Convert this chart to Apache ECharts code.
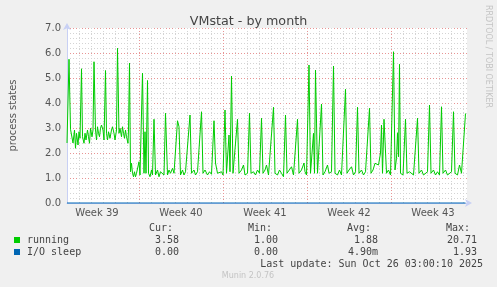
<!DOCTYPE html>
<html><head><meta charset="utf-8">
<script src="https://cdn.jsdelivr.net/npm/echarts@6/dist/echarts.min.js"></script>
<style>html,body{margin:0;padding:0;background:#f0f0f0}#c{width:497px;height:287px}</style>
</head><body><div id="c"></div>
<script>
// x values are hours relative to Mon Sep 29 2025 00:00 (start of ISO week 40)
const weekLabels = ['Week 39', 'Week 40', 'Week 41', 'Week 42', 'Week 43'];
const runningWeek39 = [[-144,2.40],[-140,5.75],[-137,2.95],[-132,2.40],[-129,2.92],[-127,2.19],[-125,2.79],[-122,2.32],[-120,2.85],[-118,2.59],[-115,5.37],[-113,2.65],[-110,2.39],[-108,2.79],[-106,2.52],[-103,2.92],[-101,2.65],[-99,2.39],[-97,2.99],[-94,2.65],[-92,2.92],[-90,5.65],[-87,2.92],[-85,2.52],[-83,3.05],[-81,2.79],[-79,2.65],[-77,2.99],[-75,3.12],[-72,2.92],[-70,2.52],[-67,5.30],[-65,2.79],[-63,2.52],[-61,2.85],[-58,2.59],[-55,2.92],[-53,3.05],[-50,2.79],[-48,2.52],[-45,2.92],[-43,6.19],[-40,2.79],[-38,2.99],[-35,2.65],[-33,3.05],[-31,2.79],[-29,2.59],[-27,2.92],[-25,2.65],[-22,2.39],[-21,2.92],[-19,5.60],[-17,1.25],[-15,1.59],[-13,1.19],[-11,1.05],[-9,1.25],[-7,1.05],[-5,1.19],[-2,1.19]];
const runningWeek40 = [[0,1.65],[2,1.12],[5,1.19],[7,5.20],[10,1.19],[12,2.85],[14,1.19],[17,4.90],[19,1.19],[22,1.05],[25,1.32],[27,1.12],[30,3.35],[33,1.12],[37,1.32],[40,1.05],[43,1.25],[47,1.19],[50,1.12],[53,3.59],[57,1.12],[60,1.32],[63,1.19],[67,1.39],[70,1.19],[77,3.29],[80,3.05],[83,1.12],[87,1.32],[90,1.12],[93,1.25],[97,1.19],[102,3.52],[105,1.19],[110,1.32],[113,1.12],[117,1.25],[120,1.19],[125,3.65],[128,1.19],[132,1.32],[137,1.12],[141,1.25],[145,1.15],[150,3.29],[153,1.60],[157,1.19],[160,1.12],[165,1.25]];
const runningWeek41 = [[168,1.12],[172,3.72],[175,1.19],[180,2.72],[182,1.25],[185,5.08],[188,1.19],[191,1.12],[197,3.35],[200,1.19],[205,1.32],[209,1.52],[212,1.12],[217,1.19],[221,3.59],[224,1.19],[229,1.25],[233,1.12],[237,1.32],[241,1.19],[245,3.39],[248,1.19],[252,1.32],[255,1.52],[259,1.12],[263,1.19],[269,3.83],[272,1.19],[277,1.12],[281,1.32],[285,1.19],[289,1.05],[293,3.52],[296,1.19],[300,1.25],[305,1.45],[309,1.12],[313,1.19],[317,3.35],[320,1.19],[325,1.32],[330,1.60],[332,1.25],[335,1.12]];
const runningWeek42 = [[340,5.52],[343,1.19],[349,2.79],[351,1.19],[353,5.32],[357,1.19],[360,1.25],[365,3.96],[368,1.12],[372,1.25],[377,1.52],[380,1.19],[385,1.25],[389,5.48],[392,1.19],[397,1.12],[401,1.32],[405,1.12],[409,1.19],[413,4.55],[416,1.19],[420,1.32],[425,1.45],[429,1.12],[433,1.25],[437,3.83],[440,1.19],[445,1.32],[449,1.12],[453,1.25],[457,1.19],[461,3.79],[464,1.19],[468,1.32],[472,1.59],[475,1.65],[479,1.52],[483,2.00],[485,3.12],[487,1.19],[490,3.35],[495,1.19],[499,1.32],[503,1.12]];
const runningWeek43 = [[509,6.05],[512,1.32],[515,1.79],[517,2.81],[519,1.85],[521,5.55],[523,1.19],[528,1.12],[533,3.35],[536,1.19],[541,1.25],[545,1.32],[549,1.12],[553,1.19],[557,3.39],[560,1.19],[565,1.32],[569,1.12],[573,1.19],[577,1.25],[581,3.92],[584,1.19],[589,1.32],[593,1.12],[597,1.25],[601,1.12],[605,3.85],[608,1.19],[613,1.32],[617,1.12],[621,1.19],[625,1.25],[629,3.65],[632,1.19],[637,1.12],[641,1.52],[645,1.19],[649,1.25],[653,3.58]];
const ioSleepBumps = [[-132,0.08],[-74,0.05],[-22,0.05],[0,0.06],[26,0.05],[42,0.05],[52,0.06],[82,0.05],[98,0.06],[128,0.05],[146,0.06],[192,0.08],[228,0.05],[248,0.06],[256,0.05],[266,0.06],[318,0.06],[340,0.08],[362,0.05],[388,0.06],[436,0.05],[452,0.06],[472,0.05],[496,0.05],[556,0.06],[578,0.08],[606,0.05],[632,0.06]];
const ioSleepStart = -144, ioSleepEnd = 653;
const legendNames = ['running', 'I/O sleep'];
const legendColors = ['#00cc00', '#0066b3'];
const statHeaders = ['Cur:', 'Min:', 'Avg:', 'Max:'];
const runningStats = ['3.58', '1.00', '1.88', '20.71'];
const ioSleepStats = ['0.00', '0.00', '4.90m', '1.93'];
const lastUpdate = 'Last update: Sun Oct 26 03:00:10 2025';

const running = [].concat(runningWeek39, runningWeek40, runningWeek41, runningWeek42, runningWeek43);
const ioSleep = [[ioSleepStart, 0]];
ioSleepBumps.forEach(([h, v]) => { ioSleep.push([h - 2, 0], [h, v], [h + 2, 0]); });
ioSleep.push([ioSleepEnd, 0]);

const GRAY = '#d4d4d4', RED = '#e89494', AXIS = '#c8d0f4';
const mono = '"DejaVu Sans Mono", monospace';
const sans = '"DejaVu Sans", sans-serif';
const txt = (x, y, text, opts) => ({
  type: 'text', x: x, y: y,
  style: Object.assign({ text: text, font: '10px ' + mono, fill: '#444', align: 'left', verticalAlign: 'middle' }, opts || {})
});

const colX = [173, 272, 371, 470];
const valX = [179, 278, 378, 477];
const graphics = [];
statHeaders.forEach((h, i) => graphics.push(txt(colX[i], 228, h, { align: 'right' })));
[runningStats, ioSleepStats].forEach((row, r) => {
  const y = 240 + r * 12;
  graphics.push({ type: 'rect', shape: { x: 14, y: y - 3, width: 6, height: 6 }, style: { fill: legendColors[r] } });
  graphics.push(txt(27, y, legendNames[r]));
  row.forEach((v, i) => graphics.push(txt(valX[i], y, v, { align: 'right' })));
});
graphics.push(txt(483, 264, lastUpdate, { align: 'right' }));
graphics.push(txt(248, 276, 'Munin 2.0.76', { align: 'center', font: '8px ' + sans, fill: '#c4c4c4' }));
graphics.push({ type: 'text', x: 488, y: 5, rotation: -Math.PI / 2,
  style: { text: 'RRDTOOL / TOBI OETIKER', font: '8px ' + sans, fill: '#c4c4c4', align: 'left', verticalAlign: 'middle' } });
graphics.push({ type: 'text', x: 13, y: 115.5, rotation: Math.PI / 2,
  style: { text: 'process states', font: '10px ' + sans, fill: '#555', align: 'center', verticalAlign: 'middle' } });

const chart = echarts.init(document.getElementById('c'), null, { renderer: 'canvas' });
chart.setOption({
  animation: false,
  backgroundColor: '#f0f0f0',
  title: { text: 'VMstat - by month', left: 'center', top: 10,
    textStyle: { fontSize: 12.7, fontWeight: 'normal', color: '#444', fontFamily: 'DejaVu Sans' } },
  grid: { left: 67, right: 30, top: 28, bottom: 84, show: true, backgroundColor: '#ffffff', borderWidth: 0 },
  xAxis: [
    { type: 'value', min: -144, max: 656, interval: 24, position: 'bottom',
      axisLine: { show: true, onZero: false, lineStyle: { color: AXIS }, symbol: ['none', 'arrow'], symbolSize: [6, 7], symbolOffset: [0, 5] },
      axisTick: { show: false }, axisLabel: { show: false },
      splitLine: { show: true, showMaxLine: false,
        lineStyle: { color: [GRAY, GRAY, GRAY, GRAY, GRAY, GRAY, RED], type: [1, 2], width: 1 } } },
    { type: 'value', min: -144, max: 656, interval: 12, position: 'bottom',
      axisLine: { show: false, onZero: false }, axisTick: { show: false }, splitLine: { show: false },
      axisLabel: { show: true, margin: 5, fontSize: 10, color: '#555', fontFamily: 'DejaVu Sans',
        showMinLabel: true, showMaxLabel: true,
        formatter: v => {
          const k = (v + 84) / 168;
          return (Math.abs(k - Math.round(k)) < 1e-6 && weekLabels[Math.round(k)]) ? weekLabels[Math.round(k)] : '';
        } } }
  ],
  yAxis: {
    type: 'value', min: 0, max: 7, interval: 0.2, position: 'left',
    axisLine: { show: true, onZero: false, lineStyle: { color: AXIS }, symbol: ['none', 'arrow'], symbolSize: [6, 7], symbolOffset: [0, 5] },
    axisTick: { show: false },
    axisLabel: { margin: 6, fontSize: 10, color: '#555', fontFamily: 'DejaVu Sans',
      formatter: v => Math.abs(v - Math.round(v)) < 1e-6 ? Math.round(v).toFixed(1) : '' },
    splitLine: { show: true, lineStyle: { color: [RED, GRAY, GRAY, GRAY, GRAY], type: [1, 2], width: 1 } }
  },
  series: [
    { name: 'running', type: 'line', xAxisIndex: 0, data: running, showSymbol: false, symbol: 'none',
      lineStyle: { color: '#00cc00', width: 1 }, itemStyle: { color: '#00cc00' }, z: 3 },
    { name: 'I/O sleep', type: 'line', xAxisIndex: 0, data: ioSleep, showSymbol: false, symbol: 'none',
      lineStyle: { color: '#0066b3', width: 1 }, itemStyle: { color: '#0066b3' }, z: 4, clip: false }
  ],
  graphic: graphics
});
</script></body></html>
